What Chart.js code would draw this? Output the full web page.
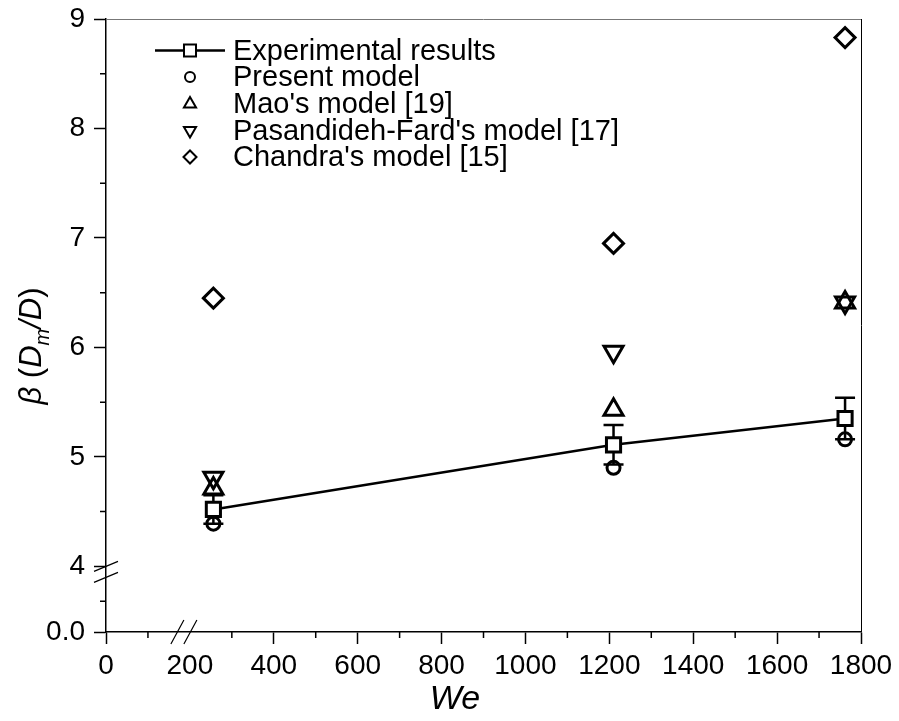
<!DOCTYPE html>
<html><head><meta charset="utf-8">
<script src="https://cdn.jsdelivr.net/npm/chart.js@4.4.0/dist/chart.umd.min.js"></script>
<style>html,body{margin:0;padding:0;background:#fff}#wrap{width:899px;height:721px}</style>
</head><body><div id="wrap"><canvas id="c" width="899" height="721"></canvas></div>
<script>
const weValues = [256, 1210, 1762];
const experimental = [4.52, 5.11, 5.35];
const experimentalErr = [0.13, 0.18, 0.19];
const presentModel = [4.39, 4.90, 5.16];
const maoModel = [4.71, 5.43, 6.41];
const pasandidehModel = [4.81, 5.96, 6.41];
const chandraModel = [6.45, 6.95, 8.83];
const seriesLabels = ['Experimental results', 'Present model', "Mao's model [19]", "Pasandideh-Fard's model [17]", "Chandra's model [15]"];
const xTickValues = [0, 200, 400, 600, 800, 1000, 1200, 1400, 1600, 1800];
const xMinorValues = [100, 300, 500, 700, 900, 1100, 1300, 1500, 1700];
const yTickValues = [3.4, 4, 5, 6, 7, 8, 9];
const yTickLabels = ['0.0', '4', '5', '6', '7', '8', '9'];
const yMinorValues = [3.68, 4.5, 5.5, 6.5, 7.5, 8.5];
const xTitle = 'We';

const FONT = "'Liberation Sans', Arial, sans-serif";
const toPts = arr => arr.map((v, i) => ({x: weValues[i], y: v}));

const styles = [
  {pointStyle: 'rect', rotation: 0, radius: 10, fill: '#fff'},
  {pointStyle: 'circle', rotation: 0, radius: 6.5, fill: 'rgba(0,0,0,0)'},
  {pointStyle: 'triangle', rotation: 0, radius: 11, fill: 'rgba(0,0,0,0)'},
  {pointStyle: 'triangle', rotation: 180, radius: 11, fill: 'rgba(0,0,0,0)'},
  {pointStyle: 'rectRot', rotation: 0, radius: 10, fill: 'rgba(0,0,0,0)'}
];
const seriesData = [experimental, presentModel, maoModel, pasandidehModel, chandraModel];

const datasets = seriesData.map((arr, i) => ({
  label: seriesLabels[i],
  data: toPts(arr),
  showLine: i === 0,
  borderColor: '#000',
  borderWidth: 2.5,
  pointStyle: styles[i].pointStyle,
  rotation: styles[i].rotation,
  pointRadius: styles[i].radius,
  pointHoverRadius: styles[i].radius,
  pointBorderWidth: 3,
  pointBorderColor: '#000',
  pointBackgroundColor: styles[i].fill,
  order: i === 0 ? 0 : 1
}));

const errorBars = {
  id: 'errorBars',
  beforeDatasetsDraw(chart) {
    const {ctx, scales: {x, y}} = chart;
    ctx.save();
    ctx.strokeStyle = '#000';
    ctx.lineWidth = 2.5;
    experimental.forEach((v, i) => {
      const px = x.getPixelForValue(weValues[i]);
      const top = y.getPixelForValue(v + experimentalErr[i]);
      const bot = y.getPixelForValue(v - experimentalErr[i]);
      ctx.beginPath();
      ctx.moveTo(px, top); ctx.lineTo(px, bot);
      ctx.moveTo(px - 10, top); ctx.lineTo(px + 10, top);
      ctx.moveTo(px - 10, bot); ctx.lineTo(px + 10, bot);
      ctx.stroke();
    });
    ctx.restore();
  }
};

const decor = {
  id: 'decor',
  afterDraw(chart) {
    const {ctx, chartArea: a, scales: {x, y}} = chart;
    ctx.save();
    // frame top & right
    ctx.lineWidth = 1;
    ctx.strokeStyle = '#777';
    ctx.beginPath(); ctx.moveTo(a.left, a.top + 0.5); ctx.lineTo(a.right, a.top + 0.5); ctx.stroke();
    ctx.strokeStyle = '#000';
    ctx.beginPath(); ctx.moveTo(a.right + 0.5, a.top); ctx.lineTo(a.right + 0.5, a.bottom); ctx.stroke();
    // minor ticks
    ctx.lineWidth = 1.5;
    ctx.beginPath();
    xMinorValues.forEach(v => { const p = x.getPixelForValue(v); ctx.moveTo(p, a.bottom); ctx.lineTo(p, a.bottom + 6); });
    yMinorValues.forEach(v => { const p = y.getPixelForValue(v); ctx.moveTo(a.left, p); ctx.lineTo(a.left - 6, p); });
    ctx.stroke();
    // axis breaks
    ctx.lineWidth = 1.2;
    ctx.beginPath();
    const bx = x.getPixelForValue(200);
    [-13, 0].forEach(dx => {
      ctx.moveTo(bx + dx - 6, a.bottom + 12); ctx.lineTo(bx + dx + 7, a.bottom - 12);
    });
    const by = y.getPixelForValue(4);
    [0, 11].forEach(dy => {
      ctx.moveTo(a.left - 12, by + dy + 5); ctx.lineTo(a.left + 12, by + dy - 5);
    });
    ctx.stroke();
    // x title
    ctx.fillStyle = '#000';
    ctx.font = `italic 34px ${FONT}`;
    ctx.textAlign = 'center'; ctx.textBaseline = 'middle';
    ctx.fillText(xTitle, 455, 700);
    // y title
    ctx.save();
    ctx.translate(30, 346);
    ctx.rotate(-Math.PI / 2);
    const segs = [
      {t: 'β', f: `italic 31px ${FONT}`, dy: 0},
      {t: ' (', f: `31px ${FONT}`, dy: 0},
      {t: 'D', f: `italic 31px ${FONT}`, dy: 0},
      {t: 'm', f: `italic 20px ${FONT}`, dy: 8},
      {t: '/D', f: `italic 31px ${FONT}`, dy: 0},
      {t: ')', f: `31px ${FONT}`, dy: 0}
    ];
    let total = 0;
    segs.forEach(s => { ctx.font = s.f; s.w = ctx.measureText(s.t).width; total += s.w; });
    let cx = -total / 2;
    ctx.textAlign = 'left'; ctx.textBaseline = 'alphabetic';
    segs.forEach(s => { ctx.font = s.f; ctx.fillText(s.t, cx, 11 + s.dy); cx += s.w; });
    ctx.restore();
    // legend
    const rowY = [50.5, 77, 104, 130.5, 157];
    const legendStyles = [
      {pointStyle: 'rect', rotation: 0, radius: 8.5},
      {pointStyle: 'circle', rotation: 0, radius: 5},
      {pointStyle: 'triangle', rotation: 0, radius: 7},
      {pointStyle: 'triangle', rotation: 180, radius: 7},
      {pointStyle: 'rectRot', rotation: 0, radius: 6.5}
    ];
    chart.data.datasets.forEach((ds, i) => {
      const yy = rowY[i];
      ctx.strokeStyle = '#000';
      if (i === 0) {
        ctx.lineWidth = 2.5;
        ctx.beginPath(); ctx.moveTo(155, yy); ctx.lineTo(225, yy); ctx.stroke();
      }
      ctx.lineWidth = 2;
      ctx.fillStyle = styles[i].fill;
      Chart.helpers.drawPoint(ctx, Object.assign({borderWidth: 2}, legendStyles[i]), 190, yy);
      ctx.fillStyle = '#000';
      ctx.font = `29px ${FONT}`;
      ctx.textAlign = 'left'; ctx.textBaseline = 'middle';
      ctx.fillText(ds.label, 233, yy + 1);
    });
    ctx.restore();
  }
};

new Chart(document.getElementById('c'), {
  type: 'scatter',
  data: {datasets},
  options: {
    responsive: false,
    animation: false,
    devicePixelRatio: 1,
    layout: {padding: {top: 19, right: 38, left: 0, bottom: 0}},
    plugins: {legend: {display: false}, tooltip: {enabled: false}},
    scales: {
      x: {
        type: 'linear', position: 'bottom', min: 0, max: 1800,
        afterBuildTicks: s => { s.ticks = xTickValues.map(v => ({value: v})); },
        afterFit: s => { s.height = 89; s.paddingLeft = 0; s.paddingRight = 0; },
        grid: {drawOnChartArea: false, drawTicks: true, tickLength: 12, tickWidth: 1.5,
               tickColor: c => (c.tick && c.tick.value === 200) ? 'rgba(0,0,0,0)' : '#000'},
        border: {color: '#000', width: 1.5},
        ticks: {font: {family: FONT, size: 28}, color: '#000', padding: 5, maxRotation: 0, autoSkip: false,
                callback: v => String(v)}
      },
      y: {
        type: 'linear', min: 3.4, max: 9,
        afterBuildTicks: s => { s.ticks = yTickValues.map(v => ({value: v})); },
        afterFit: s => { s.width = 106; s.paddingTop = 0; s.paddingBottom = 0; },
        grid: {drawOnChartArea: false, drawTicks: true, tickLength: 12, tickWidth: 1.5, tickColor: '#000'},
        border: {color: '#000', width: 1.5},
        ticks: {font: {family: FONT, size: 28}, color: '#000', padding: 9, autoSkip: false,
                callback: (v) => { const i = yTickValues.indexOf(v); return i >= 0 ? yTickLabels[i] : ''; }}
      }
    }
  },
  plugins: [errorBars, decor]
});
</script></body></html>
